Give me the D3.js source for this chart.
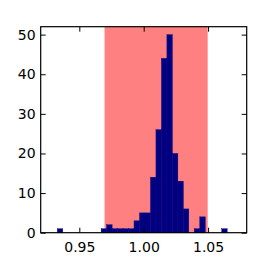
<!DOCTYPE html>
<html>
<head>
<meta charset="utf-8">
<script src="https://cdn.jsdelivr.net/npm/d3@7"></script>
<style>
  body { margin: 0; background: #fff; }
  text { font-family: "DejaVu Sans", sans-serif; }
</style>
</head>
<body>
<div id="chart"></div>
<script>
// histogram: 31 equal bins, counts
const binStart = 0.9329;
const binWidth = 0.004256;
const counts = [1, 0, 0, 0, 0, 0, 0, 0, 1, 2, 1, 1, 1, 1, 3, 5, 5, 14, 26, 44, 50, 20, 13, 6, 0, 1, 4, 0, 0, 0, 1];

// shaded band
const spanLow = 0.9696;
const spanHigh = 1.0497;

const xTicks = [0.95, 1.00, 1.05];
const yTicks = [0, 10, 20, 30, 40, 50];

const bins = counts.map((c, i) => ({
  x0: binStart + i * binWidth,
  x1: binStart + (i + 1) * binWidth,
  count: c
}));

const width = 274;
const height = 274;
const margin = { top: 26.7, right: 27.3, bottom: 41.3, left: 40.7 };

const svg = d3.select("#chart")
  .append("svg")
    .attr("width", width)
    .attr("height", height);

const x = d3.scaleLinear()
  .domain([0.92, 1.08])
  .range([margin.left, width - margin.right]);

const y = d3.scaleLinear()
  .domain([0, 52])
  .range([height - margin.bottom, margin.top]);

// red band
svg.append("rect")
  .attr("x", x(spanLow))
  .attr("y", y(52))
  .attr("width", x(spanHigh) - x(spanLow))
  .attr("height", y(0) - y(52))
  .attr("fill", "#ff8080");

// bars (thin stroke in the same colour hides seams between neighbours)
svg.selectAll(".bar")
  .data(bins.filter(d => d.count > 0))
  .join("rect")
    .attr("class", "bar")
    .attr("x", d => x(d.x0))
    .attr("y", d => y(d.count))
    .attr("width", d => x(d.x1) - x(d.x0))
    .attr("height", d => y(0) - y(d.count))
    .attr("fill", "#000080")
    .attr("stroke", "#000080")
    .attr("stroke-width", 0.4);

const tickLen = 5;

svg.append("g")
  .attr("transform", `translate(0,${y(0)})`)
  .call(d3.axisBottom(x).tickValues(xTicks).tickFormat(d3.format(".2f"))
    .tickSizeInner(-tickLen).tickSizeOuter(0).tickPadding(9));

svg.append("g")
  .attr("transform", `translate(0,${y(52)})`)
  .call(d3.axisTop(x).tickValues(xTicks).tickFormat("")
    .tickSizeInner(-tickLen).tickSizeOuter(0));

svg.append("g")
  .attr("transform", `translate(${x(0.92)},0)`)
  .call(d3.axisLeft(y).tickValues(yTicks)
    .tickSizeInner(-tickLen).tickSizeOuter(0).tickPadding(5));

svg.append("g")
  .attr("transform", `translate(${x(1.08)},0)`)
  .call(d3.axisRight(y).tickValues(yTicks).tickFormat("")
    .tickSizeInner(-tickLen).tickSizeOuter(0));

svg.selectAll(".domain").remove();
svg.selectAll(".tick line").attr("stroke", "#000").attr("stroke-width", 1);
svg.selectAll(".tick text")
  .attr("fill", "#000")
  .style("font-size", "14px")
  .style("font-family", "'DejaVu Sans', sans-serif");

// frame
svg.append("rect")
  .attr("x", x(0.92))
  .attr("y", y(52))
  .attr("width", x(1.08) - x(0.92))
  .attr("height", y(0) - y(52))
  .attr("fill", "none")
  .attr("stroke", "#000")
  .attr("stroke-width", 1.2);
</script>
</body>
</html>
